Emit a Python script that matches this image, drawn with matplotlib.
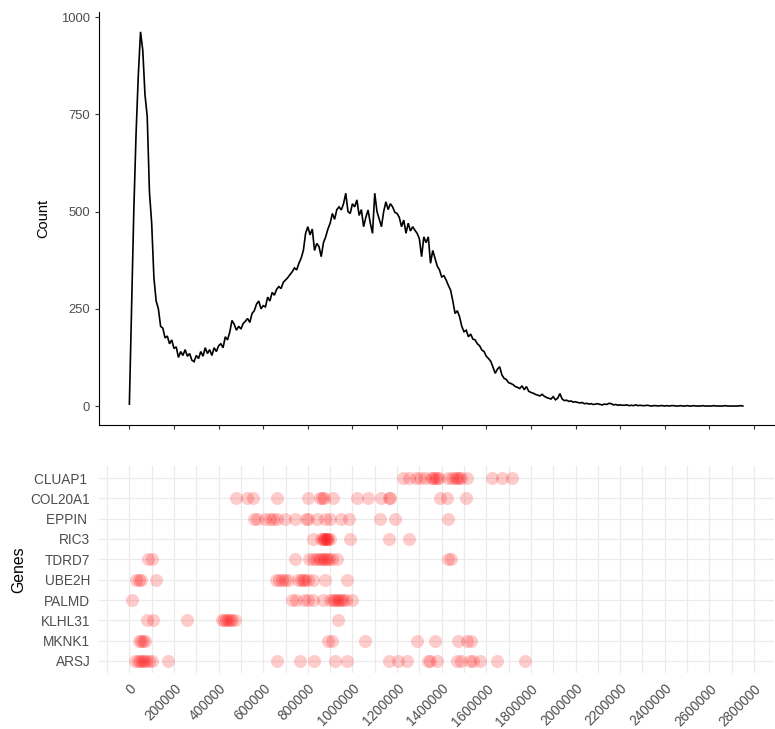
import numpy as np
import matplotlib
matplotlib.use("Agg")
import matplotlib.pyplot as plt
from matplotlib.ticker import FixedLocator

plt.rcParams['font.family'] = ['Liberation Sans', 'DejaVu Sans']

# ---------------- data ----------------
bin_width = 10000
counts = [
    5, 255, 505, 700, 850, 962, 915, 800, 745, 550,
    470, 330, 270, 250, 205, 200, 175, 180, 160, 170,
    148, 152, 125, 140, 130, 145, 128, 135, 118, 114,
    130, 122, 140, 128, 150, 135, 145, 130, 150, 140,
    155, 160, 150, 178, 170, 190, 220, 210, 195, 205,
    198, 212, 218, 225, 215, 238, 245, 262, 270, 250,
    258, 255, 280, 270, 292, 285, 300, 307, 302, 318,
    324, 330, 338, 345, 355, 350, 367, 380, 400, 444,
    461, 440, 455, 400, 418, 410, 384, 420, 435, 455,
    470, 495, 480, 505, 512, 504, 520, 547, 500, 495,
    520, 512, 530, 490, 505, 461, 485, 504, 470, 444,
    547, 500, 480, 461, 500, 525, 505, 520, 512, 498,
    495, 485, 461, 478, 444, 470, 450, 461, 452, 444,
    430, 384, 435, 420, 435, 367, 400, 380, 360, 350,
    332, 335, 324, 310, 298, 270, 238, 245, 230, 205,
    191, 195, 178, 185, 172, 170, 160, 155, 144, 140,
    128, 122, 115, 100, 84, 95, 101, 80, 71, 68,
    60, 58, 55, 50, 48, 45, 52, 42, 50, 38,
    35, 33, 30, 28, 26, 30, 25, 22, 20, 18,
    24, 16, 20, 32, 18, 14, 15, 12, 13, 10,
    11, 9, 8, 9, 6, 7, 5, 6, 4, 5,
    6, 4, 3, 5, 4, 7, 6, 3, 4, 2,
    3, 2, 2, 3, 1, 2, 1, 3, 1, 2,
    1, 1, 2, 1, 0, 1, 1, 0, 1, 1,
    0, 1, 0, 1, 1, 0, 0, 1, 0, 0,
    1, 0, 0, 1, 0, 0, 0, 1, 0, 0,
    0, 0, 1, 0, 0, 0, 0, 1, 0, 0,
    0, 0, 0, 0, 1, 0,
]
positions = np.arange(len(counts)) * bin_width

# genes listed bottom -> top
genes = ["ARSJ", "MKNK1", "KLHL31", "PALMD", "UBE2H", "TDRD7", "RIC3", "EPPIN ", "COL20A1", "CLUAP1 "]

ARSJ = [26900, 40400, 49400, 58300, 67300, 76300, 89700, 103200, 175000, 659600, 762800,
        825700, 919900, 973800, 1162200, 1202600, 1243000, 1337200, 1346200, 1377600,
        1467300, 1485300, 1525700, 1539100, 1570500, 1646800, 1772400]
MKNK1 = [44900, 53800, 62800, 71800, 888500, 906400, 1054500, 1287800, 1368600, 1471800,
         1512200, 1530100]
KLHL31 = [80800, 107700, 260300, 417300, 426300, 435300, 444200, 453200, 462200, 475700, 933300]
PALMD = [13500, 726900, 744900, 780800, 798700, 821200, 866100, 897500, 911000, 919900,
         928800, 937800, 946800, 955800, 969200, 996200]
UBE2H = [31400, 44900, 53800, 121200, 655100, 668600, 682100, 695500, 709000, 753900, 767300,
         776300, 785300, 798700, 821200, 875000, 973800]
TDRD7 = [85300, 103200, 740400, 803200, 821200, 834600, 848100, 857100, 866100, 875000,
         884000, 893000, 906400, 928800, 1427000, 1440400]
RIC3 = [821200, 857100, 866100, 870500, 875000, 879500, 884000, 888500, 897500, 987200,
        1162200, 1251900]
EPPIN = [560900, 574300, 605800, 628200, 641700, 659600, 695500, 740400, 789700, 798700,
         839100, 875000, 897500, 946800, 982700, 1121800, 1189000, 1427000]
COL20A1 = [480000, 529500, 552000, 664000, 798700, 852800, 861500, 870500, 911000, 1018600,
           1068000, 1126300, 1162200, 1166700, 1391000, 1422400, 1507700]
CLUAP1 = [1225000, 1251900, 1283300, 1301300, 1323700, 1350600, 1359600, 1368600, 1377600,
          1386600, 1427000, 1444900, 1458400, 1467300, 1476300, 1485300, 1512200, 1624400,
          1669200, 1714000]
gene_positions = [ARSJ, MKNK1, KLHL31, PALMD, UBE2H, TDRD7, RIC3, EPPIN, COL20A1, CLUAP1]

x_ticks = list(range(0, 2800001, 200000))
y_ticks_top = [0, 250, 500, 750, 1000]

# ---------------- figure ----------------
W, H = 775, 729
fig = plt.figure(figsize=(W / 100, H / 100), dpi=100)

def fx(px):
    return px / W

def fy(py):
    return 1 - py / H

left, right = 98.7, 773.5
xlim = (-137500, 2887500)

# top panel
ax1 = fig.add_axes([fx(left), fy(424.7), fx(right - left), (424.7 - 12) / H])
ax1.plot(positions, counts, color='black', lw=1.2, solid_joinstyle='miter')
ax1.set_xlim(*xlim)
ax1.set_ylim(-48, 1013)
ax1.set_xticks(x_ticks)
ax1.set_xticklabels([])
ax1.set_yticks(y_ticks_top)
ax1.set_yticklabels([str(v) for v in y_ticks_top])
for s in ['top', 'right']:
    ax1.spines[s].set_visible(False)
for s in ['left', 'bottom']:
    ax1.spines[s].set_linewidth(0.8)
    ax1.spines[s].set_color('black')
ax1.tick_params(axis='both', length=3.2, width=0.8, color='#333333',
                labelsize=9.4, labelcolor='#4D4D4D', pad=3)
ax1.set_ylabel('Count', fontsize=10.5, color='black', labelpad=8)

# bottom panel
ax2 = fig.add_axes([fx(left), fy(673.2), fx(right - left), (673.2 - 465.8) / H])
for i, xs in enumerate(gene_positions):
    ax2.scatter(xs, [i] * len(xs), s=88, color='red', alpha=0.2, linewidths=0, zorder=3)
ax2.set_xlim(*xlim)
ax2.set_ylim(-0.6, len(genes) - 0.4)
ax2.set_xticks(x_ticks)
ax2.xaxis.set_minor_locator(FixedLocator(list(range(-100000, 2900001, 200000))))
ax2.set_xticklabels([str(v) for v in x_ticks], rotation=45, ha='right', va='top',
                    rotation_mode='anchor')
ax2.set_yticks(range(len(genes)))
ax2.set_yticklabels(genes)
for s in ax2.spines.values():
    s.set_visible(False)
ax2.grid(True, which='major', color='#EBEBEB', lw=0.9, zorder=0)
ax2.grid(True, which='minor', axis='x', color='#EBEBEB', lw=0.9, zorder=0)
ax2.set_axisbelow(True)
ax2.tick_params(axis='both', which='both', length=0, labelsize=9.8, labelcolor='#4D4D4D')
ax2.tick_params(axis='y', pad=6)
ax2.tick_params(axis='x', pad=6)
ax2.set_ylabel('Genes', fontsize=11.4, color='black', labelpad=3)

fig.savefig('out.png', dpi=100)
